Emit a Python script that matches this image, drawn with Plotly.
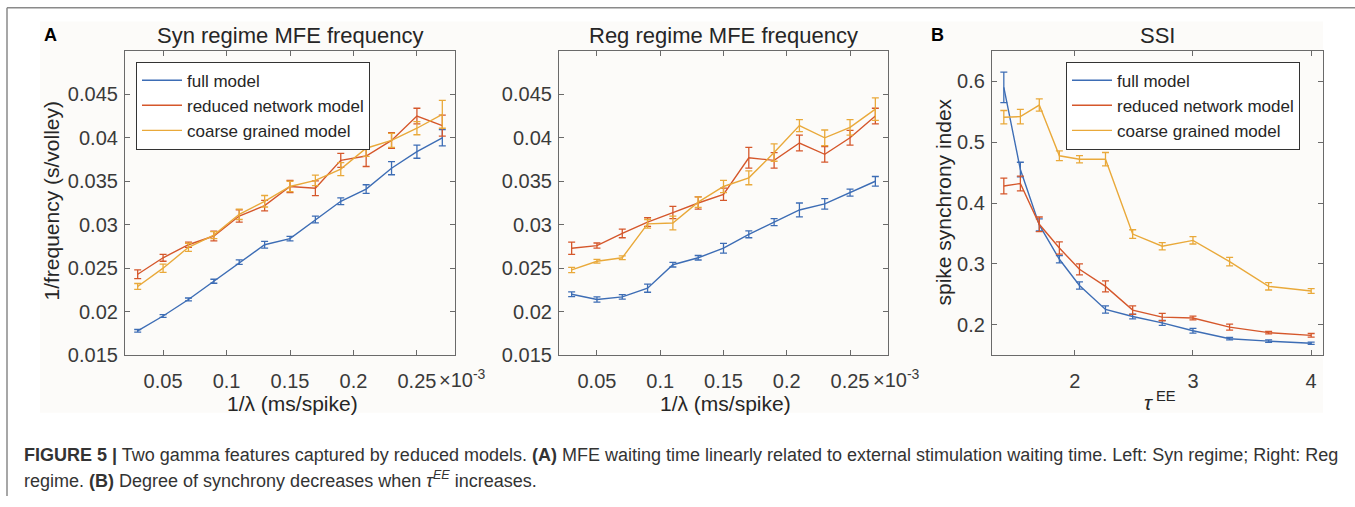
import plotly.graph_objects as go

W, H = 1355, 507

# ---------------- data ----------------
lam_x = [0.03, 0.05, 0.07, 0.09, 0.11, 0.13, 0.15, 0.17, 0.19, 0.21, 0.23, 0.25, 0.27]  # x10^-3 ms/spike

syn_full = [0.0178, 0.0195, 0.0214, 0.0235, 0.0257, 0.0277, 0.0284, 0.0306, 0.0327, 0.0341, 0.0365, 0.0384, 0.0400]
syn_full_err = [0.00015, 0.00015, 0.00017, 0.00023, 0.00026, 0.00038, 0.00026, 0.00038, 0.00038, 0.0005, 0.00075, 0.00075, 0.00094]
syn_red = [0.0243, 0.0262, 0.0277, 0.0287, 0.0310, 0.0322, 0.0344, 0.0342, 0.0374, 0.0379, 0.0397, 0.0425, 0.0414]
syn_red_err = [0.0005, 0.0004, 0.0003, 0.00056, 0.0007, 0.0006, 0.0007, 0.00085, 0.0008, 0.0012, 0.0009, 0.0009, 0.0012]
syn_cg = [0.0229, 0.0250, 0.0274, 0.0288, 0.0312, 0.0327, 0.0344, 0.0351, 0.0364, 0.0388, 0.0397, 0.0411, 0.0427]
syn_cg_err = [0.00034, 0.00047, 0.00047, 0.0004, 0.0006, 0.00066, 0.0006, 0.0006, 0.00075, 0.00094, 0.0008, 0.00075, 0.0016]

reg_full = [0.0220, 0.0214, 0.0217, 0.0227, 0.0254, 0.0262, 0.0273, 0.0289, 0.0303, 0.0317, 0.0324, 0.0337, 0.0350]
reg_full_err = [0.00028, 0.0003, 0.00025, 0.00047, 0.00026, 0.00026, 0.00056, 0.0004, 0.0004, 0.0008, 0.0006, 0.0004, 0.00055]
reg_red = [0.0273, 0.0276, 0.0290, 0.0303, 0.0314, 0.0325, 0.0335, 0.0377, 0.0374, 0.0394, 0.0381, 0.0400, 0.0425]
reg_red_err = [0.0007, 0.0003, 0.0005, 0.0005, 0.0007, 0.0007, 0.0007, 0.0012, 0.0009, 0.0009, 0.0009, 0.00085, 0.0009]
reg_cg = [0.0248, 0.0258, 0.0262, 0.0301, 0.0302, 0.0326, 0.0344, 0.0354, 0.0383, 0.0414, 0.0400, 0.0412, 0.0433]
reg_cg_err = [0.0003, 0.00022, 0.00022, 0.0005, 0.0008, 0.0006, 0.0007, 0.0008, 0.001, 0.0007, 0.0009, 0.0009, 0.0013]

tau_x = [1.4, 1.54, 1.7, 1.87, 2.04, 2.26, 2.49, 2.74, 3.0, 3.31, 3.64, 4.0]
ssi_full = [0.590, 0.455, 0.364, 0.3075, 0.2645, 0.225, 0.2135, 0.203, 0.190, 0.177, 0.173, 0.1695]
ssi_full_err = [0.025, 0.012, 0.010, 0.006, 0.006, 0.006, 0.004, 0.004, 0.004, 0.002, 0.002, 0.002]
ssi_red = [0.428, 0.432, 0.365, 0.326, 0.291, 0.263, 0.224, 0.2125, 0.211, 0.196, 0.187, 0.1825]
ssi_red_err = [0.013, 0.012, 0.012, 0.010, 0.009, 0.009, 0.007, 0.006, 0.003, 0.005, 0.002, 0.003]
ssi_cg = [0.541, 0.542, 0.561, 0.4776, 0.472, 0.472, 0.349, 0.329, 0.3386, 0.3037, 0.263, 0.2554]
ssi_cg_err = [0.011, 0.012, 0.010, 0.008, 0.006, 0.011, 0.007, 0.006, 0.006, 0.007, 0.006, 0.004]

series_names = ["full model", "reduced network model", "coarse grained model"]
colors = ["#3D6DB5", "#D5572B", "#E9A93A"]

lam_ticks = [0.05, 0.1, 0.15, 0.2, 0.25]
lam_ticktext = ["0.05", "0.1", "0.15", "0.2", "0.25"]
freq_ticks = [0.015, 0.02, 0.025, 0.03, 0.035, 0.04, 0.045]
freq_ticktext = ["0.015", "0.02", "0.025", "0.03", "0.035", "0.04", "0.045"]
tau_ticks = [2, 3, 4]
ssi_ticks = [0.2, 0.3, 0.4, 0.5, 0.6]

# ---------------- figure ----------------
FONT = "Liberation Sans, Arial, Helvetica, sans-serif"
TXT = "#262626"
AX = "#6a6a6a"

fig = go.Figure()

def px_x(p):
    return p / W

def px_y(p):
    return 1 - p / H

def add_series(xv, yv, ev, idx, xa, ya, legend, show):
    fig.add_trace(go.Scatter(
        x=xv, y=yv, mode="lines", name=series_names[idx],
        line=dict(color=colors[idx], width=1.4),
        error_y=dict(type="data", array=ev, visible=True, color=colors[idx], thickness=1.3, width=3.5),
        xaxis=xa, yaxis=ya, legend=legend, showlegend=show,
    ))

for i, (yv, ev) in enumerate([(syn_full, syn_full_err), (syn_red, syn_red_err), (syn_cg, syn_cg_err)]):
    add_series(lam_x, yv, ev, i, "x", "y", "legend", True)
for i, (yv, ev) in enumerate([(reg_full, reg_full_err), (reg_red, reg_red_err), (reg_cg, reg_cg_err)]):
    add_series(lam_x, yv, ev, i, "x2", "y2", "legend", False)
for i, (yv, ev) in enumerate([(ssi_full, ssi_full_err), (ssi_red, ssi_red_err), (ssi_cg, ssi_cg_err)]):
    add_series(tau_x, yv, ev, i, "x3", "y3", "legend2", True)

ydom = [px_y(363), px_y(52)]
common_ax = dict(showline=True, linecolor=AX, linewidth=1.2, mirror="ticks", ticks="inside",
                 ticklen=5, tickcolor=AX, tickwidth=1, showgrid=False, zeroline=False,
                 tickfont=dict(family=FONT, size=20, color="#3a3a3a"))
xax = dict(ticklabelstandoff=8, **common_ax)
yax = dict(ticklabelstandoff=2, **common_ax)

LEGFONT = dict(family=FONT, size=17, color=TXT)
fig.update_layout(
    width=W, height=H, margin=dict(l=0, r=0, t=0, b=0),
    paper_bgcolor="white", plot_bgcolor="white",
    font=dict(family=FONT, color=TXT),
    xaxis=dict(domain=[px_x(125), px_x(455)], anchor="y", range=[0.02, 0.28],
               tickvals=lam_ticks, ticktext=lam_ticktext, **xax),
    yaxis=dict(domain=ydom, anchor="x", range=[0.015, 0.05],
               tickvals=freq_ticks, ticktext=freq_ticktext, **yax),
    xaxis2=dict(domain=[px_x(559), px_x(888)], anchor="y2", range=[0.02, 0.28],
                tickvals=lam_ticks, ticktext=lam_ticktext, **xax),
    yaxis2=dict(domain=ydom, anchor="x2", range=[0.015, 0.05],
                tickvals=freq_ticks, ticktext=freq_ticktext, **yax),
    xaxis3=dict(domain=[px_x(992), px_x(1323)], anchor="y3", range=[1.3, 4.1],
                tickvals=tau_ticks, **xax),
    yaxis3=dict(domain=ydom, anchor="x3", range=[0.15, 0.65],
                tickvals=ssi_ticks, **yax),
    legend=dict(x=px_x(136), y=px_y(63), xanchor="left", yanchor="top",
                bgcolor="white", bordercolor="#333333", borderwidth=1,
                font=LEGFONT, itemwidth=40, tracegroupgap=0),
    legend2=dict(x=px_x(1066), y=px_y(63), xanchor="left", yanchor="top",
                 bgcolor="white", bordercolor="#333333", borderwidth=1,
                 font=LEGFONT, itemwidth=40, tracegroupgap=0),
)

# outer frame and faint figure region
fig.add_shape(type="rect", xref="paper", yref="paper", x0=px_x(40), x1=px_x(1323), y0=px_y(422), y1=px_y(22),
              fillcolor="#fcfbf9", line=dict(width=0), layer="below")
fig.add_shape(type="line", xref="paper", yref="paper", x0=px_x(7), x1=px_x(7), y0=0, y1=px_y(8),
              line=dict(color="#8a8a8a", width=1.5))
fig.add_shape(type="line", xref="paper", yref="paper", x0=px_x(7), x1=1, y0=px_y(8), y1=px_y(8),
              line=dict(color="#8a8a8a", width=1.5))

def ann(text, x, y, size, xanchor="center", yanchor="middle", bold=False, textangle=0, color=TXT, family=FONT):
    fig.add_annotation(text=("<b>%s</b>" % text) if bold else text, x=px_x(x), y=px_y(y), xref="paper", yref="paper",
                       showarrow=False, xanchor=xanchor, yanchor=yanchor, textangle=textangle,
                       font=dict(family=family, size=size, color=color))

# titles
ann("Syn regime MFE frequency", 290, 36, 22)
ann("Reg regime MFE frequency", 723, 36, 22)
ann("SSI", 1157, 36, 22)
ann("A", 50, 36, 18, bold=True, color="black")
ann("B", 938, 36, 18, bold=True, color="black")

# axis titles
ann("1/frequency (s/volley)", 52, 205, 21, textangle=-90)
ann("spike synchrony index", 944, 207, 21, textangle=-90)
ann("1/\u03bb (ms/spike)", 292, 412, 21)
ann("1/\u03bb (ms/spike)", 725, 412, 21)
ann("<i>\u03c4</i><sup> EE</sup>", 1160, 410, 21)

# x10^-3 exponent labels
ann("\u00d710<sup>-3</sup>", 437, 387, 20, xanchor="left", color="#3a3a3a")
ann("\u00d710<sup>-3</sup>", 871, 387, 20, xanchor="left", color="#3a3a3a")

# caption
CAP = "Liberation Sans Narrow, Arial Narrow, Liberation Sans, sans-serif"
ann("<b>FIGURE 5 |</b> Two gamma features captured by reduced models. <b>(A)</b> MFE waiting time linearly related to "
    "external stimulation waiting time. Left: Syn regime; Right: Reg", 22, 465, 18, xanchor="left", color="#333333", family=CAP)
ann("regime. <b>(B)</b> Degree of synchrony decreases when <i>\u03c4</i><sup><i>EE</i></sup> increases.",
    22, 490, 18, xanchor="left", color="#333333", family=CAP)

fig.write_html("out.html")
